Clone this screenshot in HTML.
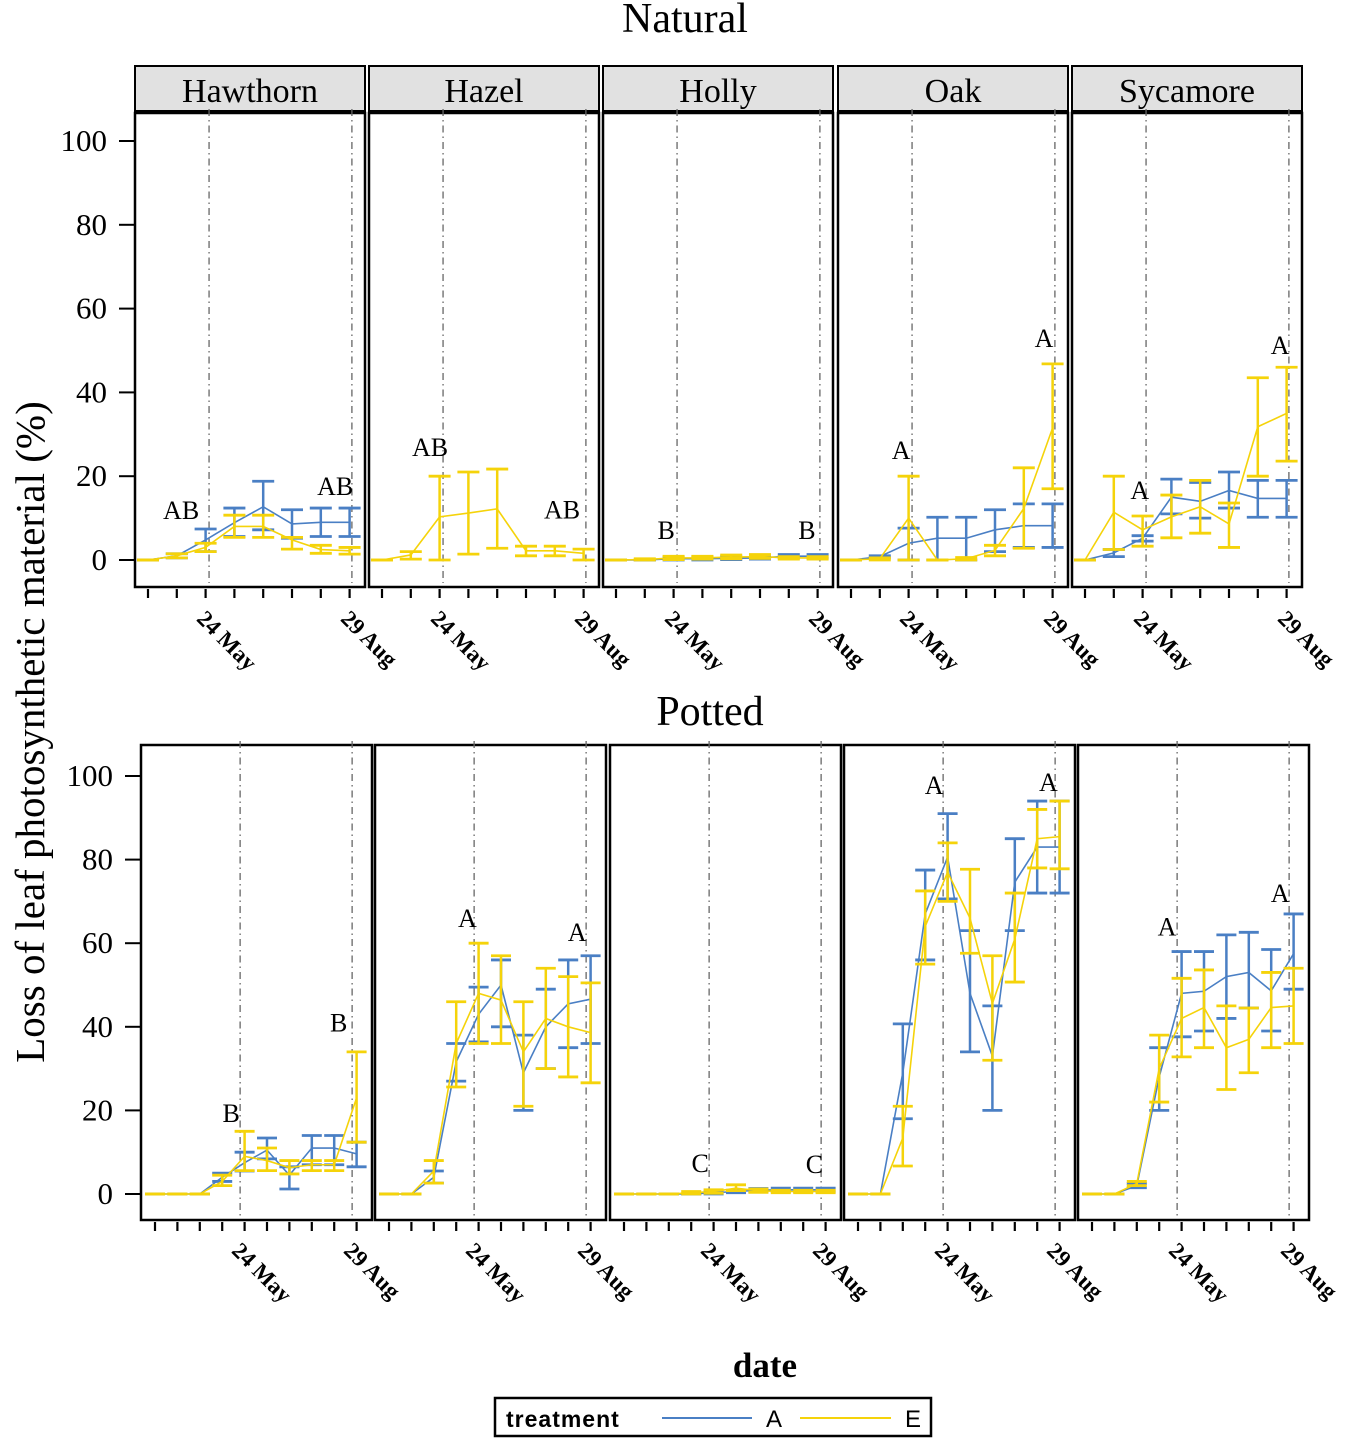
<!DOCTYPE html>
<html><head><meta charset="utf-8"><style>
body{margin:0;background:#fff}
svg{display:block;font-family:"Liberation Serif",serif}
</style></head><body>
<svg id="chart" width="1355" height="1440" viewBox="0 0 1355 1440" xmlns="http://www.w3.org/2000/svg">
<text x="685" y="32" font-size="42" text-anchor="middle">Natural</text>
<text x="710" y="725" font-size="42" text-anchor="middle">Potted</text>
<text transform="translate(44,732) rotate(-90)" font-size="41" text-anchor="middle">Loss of leaf photosynthetic material (%)</text>
<text x="765" y="1377" font-size="35" font-weight="bold" text-anchor="middle">date</text>
<g>
<rect x="495" y="1398" width="436" height="38" fill="#fff" stroke="#000" stroke-width="2.5"/>
<text x="506" y="1427" font-family="Liberation Sans,sans-serif" font-weight="bold" font-size="23" letter-spacing="1">treatment</text>
<line x1="662" y1="1418" x2="752" y2="1418" stroke="#4a7fc4" stroke-width="2"/>
<text x="766" y="1427" font-family="Liberation Sans,sans-serif" font-size="24">A</text>
<line x1="800" y1="1418" x2="891" y2="1418" stroke="#f5d30a" stroke-width="2"/>
<text x="905" y="1427" font-family="Liberation Sans,sans-serif" font-size="24">E</text>
</g>
</svg>
<script>
const species = ["Hawthorn","Hazel","Holly","Oak","Sycamore"];
const yTicks = [0,20,40,60,80,100];
const dateLabels = ["24 May","29 Aug"];
const natLabelIdx = [2,7];
const potLabelIdx = [4,9];
const natDashIdx = [2.12,7.08];
const potDashIdx = [3.8,8.8];

// Natural (8 dates)
const natAMean = [[0,1,4.8,8.9,12.7,8.6,9,9],null,[0,0,0.3,0.3,0.4,0.5,0.9,0.9],[0,0.8,4,5.2,5.2,7.2,8.2,8.2],[0,1.7,5.2,15,14,16.6,14.7,14.7]];
const natALo = [[0,0.5,2,5.6,7.2,5.2,5.6,5.6],null,[0,0,0,0,0.1,0.2,0.5,0.5],[0,0.5,0,0,0,2,3,3],[0,0.8,4.5,11,10,12.4,10.2,10.2]];
const natAHi = [[0,1.5,7.4,12.4,18.8,12,12.4,12.4],null,[0,0,0.6,0.7,0.8,1,1.3,1.3],[0,1,7.6,10.2,10.2,12,13.4,13.4],[0,2.5,5.8,19.3,18.5,21,19,19]];
const natEMean = [[0,1,3,8,8,4.8,2.5,2.2],[0,1.2,10.3,11.2,12.2,2.2,2.2,1.6],[0,0.1,0.5,0.5,0.7,0.8,0.5,0.5],[0,0.3,10,0,0.3,2.3,12.3,31.5],[0,11.4,7.2,10.3,12.7,8.6,31.8,35]];
const natELo = [[0,0.5,2,5.4,5.4,2.6,1.6,1.4],[0,0.2,0,1.4,2.8,1,1,0],[0,0,0.1,0.2,0.3,0.4,0.2,0.2],[0,0,0,0,0,1,2.8,17],[0,2.5,3.3,5.3,6.4,3,20,23.6]];
const natEHi = [[0,1.5,4,10.7,10.7,5.4,3.5,3],[0,2,20,21,21.7,3.3,3.3,2.6],[0,0.3,0.9,0.9,1.2,1.3,0.8,0.8],[0,0.5,20,0,0.6,3.5,22,46.8],[0,20,10.5,15.5,19,13.6,43.5,46]];

// Potted (10 dates)
const potAMean = [[0,0,0,4,7.5,10.5,4.5,11,11,9.6],[0,0,4,31.6,43,50,29,40,45.5,46.6],[0,0,0,0,0.3,0.6,0.9,1,1,1],[0,0,29,67,80.6,48,33,74.6,83,83],[0,0,2,28,48,48.5,52,53,48.6,57.5]];
const potALo = [[0,0,0,3,5.5,8.4,1.2,7,7,6.5],[0,0,2.6,27,36.4,40,20,30,35,36],[0,0,0,0,0,0.3,0.5,0.6,0.6,0.6],[0,0,18,56,70.6,34,20,63,72,72],[0,0,1.5,20,37.6,39,42,44.5,39,49]];
const potAHi = [[0,0,0,5,10,13.4,6.5,14,14,12.4],[0,0,5.5,36,49.5,56,38,49,56,57],[0,0,0,0,0.6,0.9,1.3,1.4,1.4,1.4],[0,0,40.7,77.5,91,63,45,85,94,94],[0,0,2.5,35,58,58,62,62.6,58.5,67]];
const potEMean = [[0,0,0,3,9,8,6.3,7,7,23],[0,0,5.5,36,48,46.4,34,42,40,38.6],[0,0,0,0.3,0.6,1.4,0.8,0.6,0.6,0.6],[0,0,13.4,64,77,66,45.6,61,85,85.5],[0,0,2.5,30,42,44.6,35,37,44.6,45]];
const potELo = [[0,0,0,2,5.6,5.6,4.8,5.6,5.6,12.4],[0,0,2.6,25.6,36,36,21,30,28,26.6],[0,0,0,0,0.2,0.8,0.4,0.3,0.3,0.3],[0,0,6.7,55,70,57.6,32,50.7,78,77.8],[0,0,2,22,32.8,35,25,29,35,36]];
const potEHi = [[0,0,0,4.5,15,11,8,8,8,34],[0,0,8,46,60,57,46,54,52,50.5],[0,0,0,0.6,1,2.2,1.2,0.9,0.9,0.9],[0,0,21,72.5,84,77.7,57,72,92,94],[0,0,3,38,51.6,53.6,45,44.5,53,54]];

// significance letters: text, x (date index), y (value)
const natLetters = [[["AB",1.15,11.9],["AB",6.5,17.7]],[["AB",1.67,27],["AB",6.25,12]],[["B",1.74,7.2],["B",6.63,7.2]],[["A",1.74,26.3],["A",6.7,53]],[["A",1.9,16.7],["A",6.77,51.3]]];
const potLetters = [[["B",3.4,19.4],["B",8.2,41]],[["A",3.5,66],["A",8.4,62.7]],[["C",3.4,7.4],["C",8.5,7.2]],[["A",3.4,97.8],["A",8.5,98.6]],[["A",3.35,64],["A",8.4,72]]];

const NS="http://www.w3.org/2000/svg";
const svg=document.getElementById('chart');
function mk(tag,attrs,parent){const e=document.createElementNS(NS,tag);for(const k in attrs)e.setAttribute(k,attrs[k]);(parent||svg).appendChild(e);return e;}
const BLUE="#4a7fc4", YEL="#f5d30a";

function drawRow(cfg){
  for(let p=0;p<5;p++){
    const L=cfg.lefts[p], W=cfg.width;
    const xs=i=>L+cfg.x0+i*cfg.dx;
    const ys=v=>cfg.y0-cfg.ky*v;
    const g=mk('g',{});
    
    
    if(cfg.strip){
      const s=mk('rect',{x:L,y:66,width:W,height:45,fill:'#e1e1e1',stroke:'#000','stroke-width':2},g);
      
      
      const t=mk('text',{x:L+W/2,y:102,'font-size':34,'text-anchor':'middle'},g);
      t.textContent=species[p];
      
      
    }
    const fr=mk('rect',{x:L,y:cfg.top,width:W,height:cfg.bottom-cfg.top,fill:'#fff',stroke:'#000','stroke-width':2.5},g);
    
    
    cfg.dash.forEach(di=>{
      const l=mk('line',{x1:xs(di),x2:xs(di),y1:cfg.top-4,y2:cfg.bottom-4,stroke:'#666','stroke-width':1.3,'stroke-dasharray':'7,4,1.5,4'},g);
      
      
    });
    for(let i=0;i<cfg.n;i++){
      const t=mk('line',{x1:xs(i),x2:xs(i),y1:cfg.bottom+2,y2:cfg.bottom+11,stroke:'#000','stroke-width':2.2},g);
      
      
    }
    cfg.labIdx.forEach((li,k)=>{
      const tx=xs(li)+cfg.lx, ty=cfg.bottom+cfg.ly;
      const t=mk('text',{x:tx,y:ty,'font-size':23,'font-weight':'bold',transform:`rotate(45 ${tx} ${ty})`},g);
      t.textContent=dateLabels[k];
      
      
    });
    if(p===0){
      yTicks.forEach(v=>{
        const t=mk('line',{x1:L-16,x2:L,y1:ys(v),y2:ys(v),stroke:'#000','stroke-width':2},svg);
        
        
        const lb=mk('text',{x:L-28,y:ys(v)+10,'font-size':31,'text-anchor':'end'},svg);
        lb.textContent=String(v);
        
        
      });
    }
    const series=[[cfg.aM,cfg.aL,cfg.aH,BLUE,'a'],[cfg.eM,cfg.eL,cfg.eH,YEL,'e']];
    series.forEach(([M,Lo,Hi,col,nm])=>{
      const m=M[p]; if(!m) return;
      const lo=Lo[p], hi=Hi[p];
      for(let i=0;i<m.length;i++){
        const x=xs(i);
        const b=mk('line',{x1:x,x2:x,y1:ys(lo[i]),y2:ys(hi[i]),stroke:col,'stroke-width':2.5},g);
        
        
        [lo[i],hi[i]].forEach(v=>{
          const c=mk('line',{x1:x-cfg.cap,x2:x+cfg.cap,y1:ys(v),y2:ys(v),stroke:col,'stroke-width':2.8},g);
          
          
        });
      }
      const pl=mk('polyline',{points:m.map((v,i)=>xs(i)+','+ys(v)).join(' '),fill:'none',stroke:col,'stroke-width':1.6},g);
      
      
    });
    cfg.letters[p].forEach(([s,xi,v])=>{
      const t=mk('text',{x:xs(xi),y:ys(v)+9,'font-size':26,'text-anchor':'middle'},g);
      t.textContent=s;
      
      
    });
  }
}
drawRow({key:'natural',lefts:[135,369,603,838,1072],width:230,top:113,bottom:587,x0:13,dx:28.8,y0:560,ky:4.19,n:8,
  strip:true,dash:natDashIdx,labIdx:natLabelIdx,lx:-10,ly:33,cap:11,
  aM:natAMean,aL:natALo,aH:natAHi,eM:natEMean,eL:natELo,eH:natEHi,letters:natLetters});
drawRow({key:'potted',lefts:[141,375,610,844,1078],width:231,top:745,bottom:1220,x0:14,dx:22.4,y0:1194,ky:4.18,n:10,
  strip:false,dash:potDashIdx,labIdx:potLabelIdx,lx:-14,ly:32,cap:10,
  aM:potAMean,aL:potALo,aH:potAHi,eM:potEMean,eL:potELo,eH:potEHi,letters:potLetters});
</script>
</body></html>
